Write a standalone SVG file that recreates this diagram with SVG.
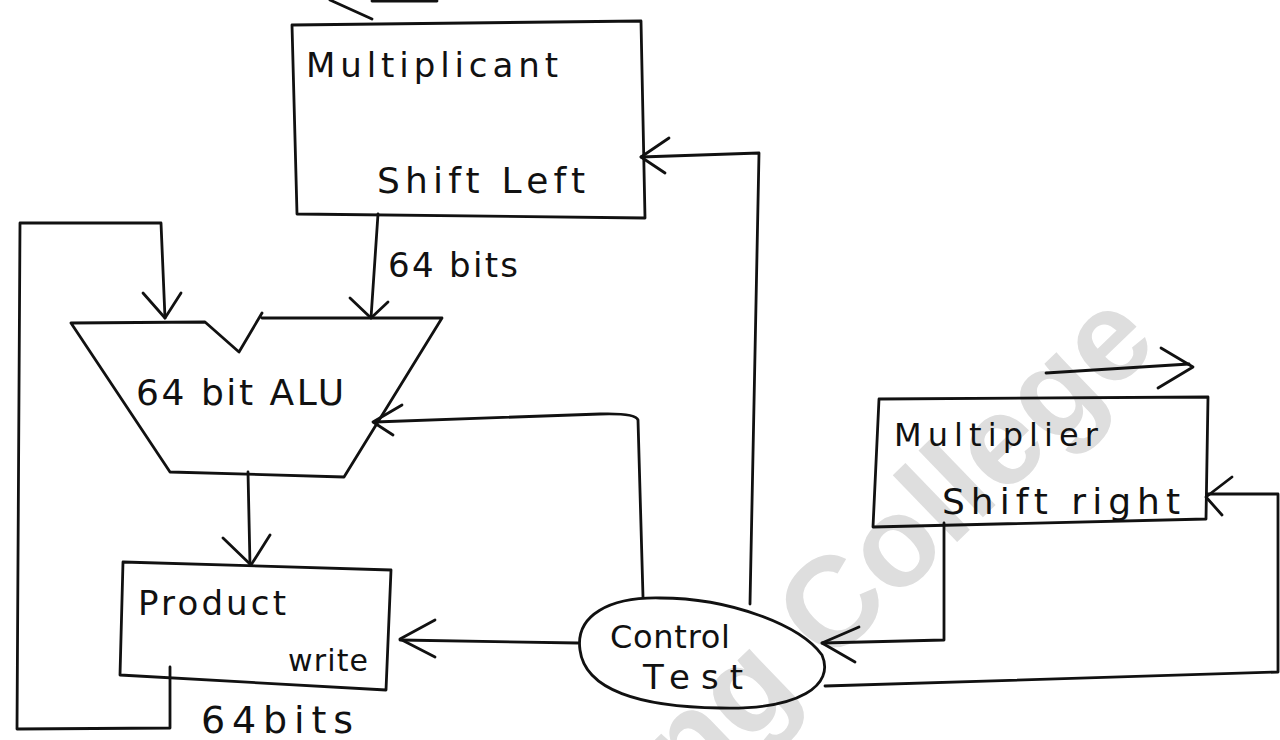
<svg xmlns="http://www.w3.org/2000/svg" width="1280" height="740" viewBox="0 0 1280 740">
<style>
.ln{fill:none;stroke:#111;stroke-width:2.8;stroke-linecap:round;stroke-linejoin:round}
.ah{fill:none;stroke:#111;stroke-width:2.8;stroke-linecap:round;stroke-linejoin:round}
.tx{font-family:"DejaVu Sans","Liberation Sans",sans-serif;fill:#111}
.wm{font-family:"Liberation Sans","DejaVu Sans",sans-serif;font-weight:bold;fill:#dedede}
</style>
<rect x="0" y="0" width="1280" height="740" fill="#ffffff"/>
<text class="wm" font-size="128" transform="translate(690,800) rotate(-44)">ng College</text>

<g id="connectors">
  <path class="ln" d="M330,0 L372,19 M372,1 L437,1"/>
  <path class="ln" d="M378,214 L371,318"/>
  <polyline class="ah" points="350,298 371,318 388,302"/>
  <polyline class="ln" points="170,667 170,728 17,729 20,223 161,223 165,318"/>
  <polyline class="ah" points="143,293 165,318 181,293"/>
  <path class="ln" d="M248,472 L250,565"/>
  <polyline class="ah" points="223,538 251,565 270,535"/>
  <path class="ln" d="M578,643 L400,640"/>
  <polyline class="ah" points="435,620 400,639 435,657"/>
  <path class="ln" d="M643,597 L638,420 Q636,413 600,414 L375,422"/>
  <polyline class="ah" points="402,405 373,422 393,435"/>
  <path class="ln" d="M750,604 L759,153 L641,157"/>
  <polyline class="ah" points="669,138 641,157 665,173"/>
  <path class="ln" d="M1046,373 L1189,364"/>
  <polyline class="ah" points="1161,348 1193,367 1158,388"/>
  <path class="ln" d="M944,523 L944,640 L822,643"/>
  <polyline class="ah" points="859,627 822,643 855,662"/>
  <path class="ln" d="M825,686 L1278,672 L1278,494 L1207,494"/>
  <polyline class="ah" points="1232,477 1206,497 1222,515"/>
</g>

<g id="multiplicand">
  <path class="ln" d="M292,25 L641,21 L645,218 L297,214 Z"/>
  <text class="tx" x="306" y="77" font-size="34" textLength="252" lengthAdjust="spacing">Multiplicant</text>
  <text class="tx" x="377" y="193" font-size="36" textLength="208" lengthAdjust="spacing">Shift Left</text>
  <text class="tx" x="388" y="277" font-size="34" textLength="130" lengthAdjust="spacing">64 bits</text>
</g>

<g id="alu">
  <path class="ln" d="M262,318 L442,318 L344,477 L170,472 L71,323 L205,322 L239,352 L262,313"/>
  <text class="tx" x="136" y="405" font-size="36" textLength="208" lengthAdjust="spacing">64 bit ALU</text>
</g>

<g id="product">
  <path class="ln" d="M123,562 L391,570 L386,690 L120,675 Z"/>
  <text class="tx" x="138" y="615" font-size="34" textLength="148" lengthAdjust="spacing">Product</text>
  <text class="tx" x="288" y="671" font-size="30" textLength="80" lengthAdjust="spacing">write</text>
  <text class="tx" x="201" y="733" font-size="38" textLength="152" lengthAdjust="spacing">64bits</text>
</g>

<g id="control">
  <path class="ln" d="M580,650 C575,615 610,597 660,598 C730,598 800,625 822,655 C835,685 800,710 720,708 C640,707 585,690 580,650 Z"/>
  <text class="tx" x="610" y="648" font-size="32" textLength="120" lengthAdjust="spacing">Control</text>
  <text class="tx" x="643" y="689" font-size="34" textLength="100" lengthAdjust="spacing">Test</text>
</g>

<g id="multiplier">
  <path class="ln" d="M879,399 L1208,397 L1206,519 L873,527 Z"/>
  <text class="tx" x="894" y="446" font-size="32" textLength="204" lengthAdjust="spacing">Multiplier</text>
  <text class="tx" x="942" y="514" font-size="36" textLength="238" lengthAdjust="spacing">Shift right</text>
</g>
</svg>
